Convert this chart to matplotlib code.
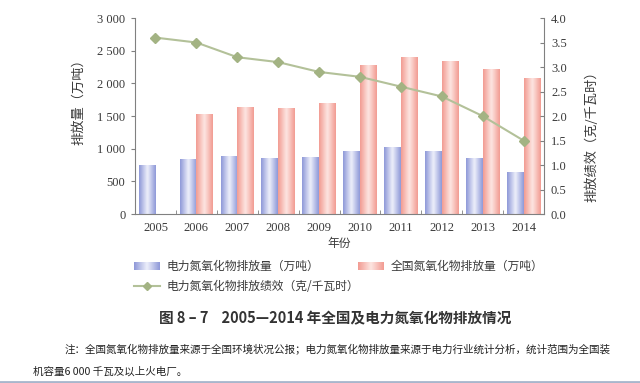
"""全国及电力氮氧化物排放情况 (2005-2014)."""

import numpy as np
import matplotlib
matplotlib.use("Agg")
import matplotlib.pyplot as plt
from matplotlib.colors import LinearSegmentedColormap
from matplotlib.lines import Line2D
from matplotlib.ticker import FuncFormatter

years = ["2005", "2006", "2007", "2008", "2009", "2010", "2011", "2012", "2013", "2014"]
power_nox = [750, 850, 890, 860, 880, 960, 1030, 960, 860, 650]          # 万吨
national_nox = [np.nan, 1524, 1643, 1625, 1693, 2274, 2404, 2338, 2227, 2078]  # 万吨
power_perf = [3.6, 3.5, 3.2, 3.1, 2.9, 2.8, 2.6, 2.4, 2.0, 1.5]           # 克/千瓦时

CJK = ["Noto Sans CJK SC", "DejaVu Sans"]
SERIF = ["Liberation Serif", "DejaVu Serif"]
TXT = "#3a3a3a"
AXC = "#808080"
BLUE_EDGE, BLUE_MID = "#8e98d8", "#eef0fb"
RED_EDGE, RED_MID = "#f29b92", "#fde6e2"
LINE_C, MARK_C = "#b3c199", "#a3b383"


def gradient_cmap(edge, mid):
    return LinearSegmentedColormap.from_list("g", [edge, mid, edge])


def gradient_bars(ax, bars, edge, mid):
    cmap = gradient_cmap(edge, mid)
    grad = np.linspace(0, 1, 64).reshape(1, -1)
    for bar in bars:
        x, y = bar.get_xy()
        w, h = bar.get_width(), bar.get_height()
        if not np.isfinite(h) or h == 0:
            continue
        im = ax.imshow(grad, extent=[x, x + w, y, y + h], cmap=cmap,
                       aspect="auto", interpolation="bicubic", zorder=2)
        im.set_clip_path(bar)
        bar.set_facecolor("none")


fig = plt.figure(figsize=(6.4, 3.83), dpi=100)
ax = fig.add_axes([0.211, 0.441, 0.639, 0.512])

x = np.arange(len(years))
w = 0.41
b1 = ax.bar(x - w / 2, power_nox, width=w, linewidth=0, zorder=2)
b2 = ax.bar(x + w / 2, national_nox, width=w, linewidth=0, zorder=2)
gradient_bars(ax, b1, BLUE_EDGE, BLUE_MID)
gradient_bars(ax, b2, RED_EDGE, RED_MID)

ax.set_xlim(-0.5, len(years) - 0.5)
ax.set_ylim(0, 3000)
ax.set_yticks(np.arange(0, 3001, 500))
ax.yaxis.set_major_formatter(FuncFormatter(lambda v, p: f"{int(v):,}".replace(",", " ")))
ax.set_xticks(x)
ax.set_xticklabels(years)
ax.set_xticks(np.arange(-0.5, len(years)), minor=True)
ax.tick_params(axis="x", which="major", length=0, pad=6)
ax.tick_params(axis="x", which="minor", length=3, direction="in", color=AXC)
ax.tick_params(axis="y", length=3, direction="out", color=AXC, pad=4)
for lab in ax.get_xticklabels() + ax.get_yticklabels():
    lab.set_family(SERIF)
    lab.set_fontsize(9)
    lab.set_color(TXT)
for s in ["top", "right"]:
    ax.spines[s].set_visible(False)
for s in ["left", "bottom"]:
    ax.spines[s].set_color(AXC)
ax.set_ylabel("排放量（万吨）", family=CJK, fontsize=9.5, color=TXT)
ax.yaxis.set_label_coords(-0.122, 0.59)
ax.set_xlabel("年份", family=CJK, fontsize=8.5, color=TXT, labelpad=2)

ax2 = ax.twinx()
ax2.plot(x, power_perf, color=LINE_C, linewidth=1.5, marker="D", markersize=5,
         markerfacecolor=MARK_C, markeredgecolor=MARK_C, zorder=3)
ax2.set_ylim(0, 4)
ax2.set_yticks(np.arange(0, 4.01, 0.5))
ax2.yaxis.set_major_formatter(FuncFormatter(lambda v, p: f"{v:.1f}"))
ax2.tick_params(axis="y", length=3, direction="in", color=AXC, pad=5)
for lab in ax2.get_yticklabels():
    lab.set_family(SERIF)
    lab.set_fontsize(9)
    lab.set_color(TXT)
for s in ["top", "left", "bottom"]:
    ax2.spines[s].set_visible(False)
ax2.spines["right"].set_color(AXC)
ax2.set_ylabel("排放绩效（克/千瓦时）", family=CJK, fontsize=9.5, color=TXT)
ax2.yaxis.set_label_coords(1.10, 0.413)

# legend, drawn by hand
def legend_patch(x0, y0, edge, mid):
    lax = fig.add_axes([x0 / 640, 1 - (y0 + 4) / 383, 26 / 640, 8 / 383])
    lax.imshow(np.linspace(0, 1, 64).reshape(1, -1), cmap=gradient_cmap(edge, mid),
               aspect="auto", interpolation="bicubic")
    lax.axis("off")

legend_patch(134, 266, BLUE_EDGE, BLUE_MID)
legend_patch(358, 266, RED_EDGE, RED_MID)
fig.text(167 / 640, 1 - 266 / 383, "电力氮氧化物排放量（万吨）", family=CJK, fontsize=8.5,
         color=TXT, va="center")
fig.text(391 / 640, 1 - 266 / 383, "全国氮氧化物排放量（万吨）", family=CJK, fontsize=8.5,
         color=TXT, va="center")
fig.add_artist(Line2D([134 / 640, 160 / 640], [1 - 286 / 383] * 2, color=LINE_C, linewidth=1.5))
fig.add_artist(Line2D([147 / 640], [1 - 286 / 383], marker="D", markersize=4,
                      color=MARK_C, linestyle="none"))
fig.text(167 / 640, 1 - 286 / 383, "电力氮氧化物排放绩效（克/千瓦时）", family=CJK, fontsize=8.5,
         color=TXT, va="center")

fig.text(335 / 640, 1 - 318 / 383, "图 8 – 7    2005—2014 年全国及电力氮氧化物排放情况",
         family=CJK, fontsize=10.5, fontweight="bold", color="#333333",
         ha="center", va="center")
fig.text(65 / 640, 1 - 350 / 383,
         "注：全国氮氧化物排放量来源于全国环境状况公报；电力氮氧化物排放量来源于电力行业统计分析，统计范围为全国装",
         family=CJK, fontsize=7.6, color="#222222", va="center")
fig.text(33 / 640, 1 - 372 / 383, "机容量6 000 千瓦及以上火电厂。",
         family=CJK, fontsize=7.6, color="#222222", va="center")
fig.add_artist(Line2D([0, 1], [1.5 / 383] * 2, color="#a8b6cc", linewidth=2))

fig.savefig("out.png", dpi=100)
plt.close(fig)
